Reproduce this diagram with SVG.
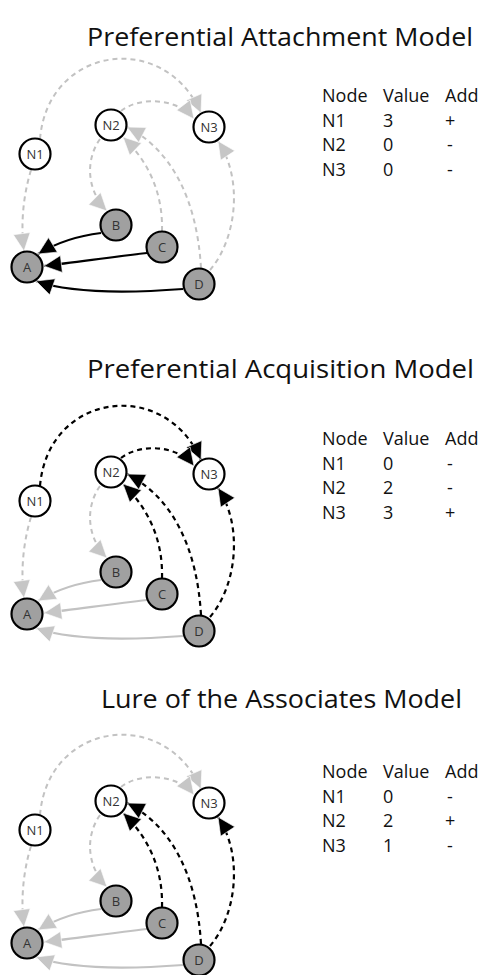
<svg xmlns="http://www.w3.org/2000/svg" width="482" height="975" viewBox="0 0 482 975">
<style>
.title{font-family:"Open Sans","Liberation Sans",sans-serif;font-size:25px;fill:#111}
.tbl{font-family:"Open Sans","Liberation Sans",sans-serif;font-size:18px;fill:#111}
.lbl{font-family:"Open Sans","Liberation Sans",sans-serif;font-size:13px;fill:#333;text-anchor:middle}
.wn{fill:#fff;stroke:#000;stroke-width:2.2}
.gn{fill:#a0a0a0;stroke:#000;stroke-width:2.2}
.e{fill:none}
.gd{stroke:#c2c2c2;stroke-width:2;stroke-dasharray:5 4;marker-end:url(#ag)}
.bd{stroke:#000;stroke-width:2.2;stroke-dasharray:5 4;marker-end:url(#ab)}
.gs{stroke:#c2c2c2;stroke-width:2.2;marker-end:url(#ag)}
.bs{stroke:#000;stroke-width:2.2;marker-end:url(#ab)}
</style>
<defs>
<marker id="ab" markerUnits="userSpaceOnUse" markerWidth="22" markerHeight="20" refX="18" refY="9" orient="auto" overflow="visible">
<path d="M0.5,0.5 L18,9 L0.5,17.5 z" fill="#000" stroke="#fff" stroke-width="0.6"/>
</marker>
<marker id="ag" markerUnits="userSpaceOnUse" markerWidth="22" markerHeight="20" refX="18" refY="9" orient="auto" overflow="visible">
<path d="M0.5,0.5 L18,9 L0.5,17.5 z" fill="#c6c6c6" stroke="#fff" stroke-width="0.6"/>
</marker>
</defs>

<text class="title" x="87" y="46" textLength="386" lengthAdjust="spacingAndGlyphs">Preferential Attachment Model</text>
<text class="title" x="87" y="378" textLength="387" lengthAdjust="spacingAndGlyphs">Preferential Acquisition Model</text>
<text class="title" x="101" y="708" textLength="361" lengthAdjust="spacingAndGlyphs">Lure of the Associates Model</text>

<g id="table1" class="tbl">
<text x="322" y="102">Node</text><text x="383" y="102">Value</text><text x="445" y="102">Add</text>
<text x="322" y="126.5">N1</text><text x="383" y="126.5">3</text><text x="445" y="126.5">+</text>
<text x="322" y="151">N2</text><text x="383" y="151">0</text><text x="447" y="151">-</text>
<text x="322" y="175.5">N3</text><text x="383" y="175.5">0</text><text x="447" y="175.5">-</text>
</g>
<g id="table2" class="tbl">
<text x="322" y="445">Node</text><text x="383" y="445">Value</text><text x="445" y="445">Add</text>
<text x="322" y="469.5">N1</text><text x="383" y="469.5">0</text><text x="447" y="469.5">-</text>
<text x="322" y="494">N2</text><text x="383" y="494">2</text><text x="447" y="494">-</text>
<text x="322" y="518.5">N3</text><text x="383" y="518.5">3</text><text x="445" y="518.5">+</text>
</g>
<g id="table3" class="tbl">
<text x="322" y="778">Node</text><text x="383" y="778">Value</text><text x="445" y="778">Add</text>
<text x="322" y="802.5">N1</text><text x="383" y="802.5">0</text><text x="447" y="802.5">-</text>
<text x="322" y="827">N2</text><text x="383" y="827">2</text><text x="445" y="827">+</text>
<text x="322" y="851.5">N3</text><text x="383" y="851.5">1</text><text x="447" y="851.5">-</text>
</g>

<!-- Panel 1 -->
<g id="panel1">
<g id="connectors1" class="e">
<path class="gd" d="M40,139 C48,45 165,30 201,113"/>
<path class="gd" d="M121,111 C140,96 178,98 194,119"/>
<path class="gd" d="M100,139 C84,162 88,192 107,211"/>
<path class="gd" d="M31,170 C22,200 21,228 24,251"/>
<path class="gd" d="M162,231 C163,195 150,163 123,137"/>
<path class="gd" d="M201,268 C197,200 172,150 127,127"/>
<path class="gd" d="M210,270 C236,240 244,180 218,141"/>
<path class="bs" d="M101,233 C76,236 56,243 38,254"/>
<path class="bs" d="M147,253 C112,257 78,262 44,266"/>
<path class="bs" d="M183,289 C130,293 70,293 36,281"/>
</g>
<g id="p1-N1"><circle class="wn" cx="35" cy="154" r="15.5"/><text class="lbl" x="35" y="158.5">N1</text></g>
<g id="p1-N2"><circle class="wn" cx="111" cy="125" r="15.5"/><text class="lbl" x="111" y="129.5">N2</text></g>
<g id="p1-N3"><circle class="wn" cx="209" cy="127" r="15.5"/><text class="lbl" x="209" y="131.5">N3</text></g>
<g id="p1-A"><circle class="gn" cx="27" cy="267" r="15.5"/><text class="lbl" x="27" y="271.5">A</text></g>
<g id="p1-B"><circle class="gn" cx="116" cy="225" r="15.5"/><text class="lbl" x="116" y="229.5">B</text></g>
<g id="p1-C"><circle class="gn" cx="162" cy="247" r="15.5"/><text class="lbl" x="162" y="251.5">C</text></g>
<g id="p1-D"><circle class="gn" cx="199" cy="284" r="15.5"/><text class="lbl" x="199" y="288.5">D</text></g>
</g>

<!-- Panel 2 -->
<g id="panel2" transform="translate(0,347)">
<g id="connectors2" class="e">
<path class="bd" d="M40,139 C48,45 165,30 201,113"/>
<path class="bd" d="M121,111 C140,96 178,98 194,119"/>
<path class="gd" d="M100,139 C84,162 88,192 107,211"/>
<path class="gd" d="M31,170 C22,200 21,228 24,251"/>
<path class="bd" d="M162,231 C163,195 150,163 123,137"/>
<path class="bd" d="M201,268 C197,200 172,150 127,127"/>
<path class="bd" d="M210,270 C236,240 244,180 218,141"/>
<path class="gs" d="M101,233 C76,236 56,243 38,254"/>
<path class="gs" d="M147,253 C112,257 78,262 44,266"/>
<path class="gs" d="M183,289 C130,293 70,293 36,281"/>
</g>
<g id="p2-N1"><circle class="wn" cx="35" cy="154" r="15.5"/><text class="lbl" x="35" y="158.5">N1</text></g>
<g id="p2-N2"><circle class="wn" cx="111" cy="125" r="15.5"/><text class="lbl" x="111" y="129.5">N2</text></g>
<g id="p2-N3"><circle class="wn" cx="209" cy="127" r="15.5"/><text class="lbl" x="209" y="131.5">N3</text></g>
<g id="p2-A"><circle class="gn" cx="27" cy="267" r="15.5"/><text class="lbl" x="27" y="271.5">A</text></g>
<g id="p2-B"><circle class="gn" cx="116" cy="225" r="15.5"/><text class="lbl" x="116" y="229.5">B</text></g>
<g id="p2-C"><circle class="gn" cx="162" cy="247" r="15.5"/><text class="lbl" x="162" y="251.5">C</text></g>
<g id="p2-D"><circle class="gn" cx="199" cy="284" r="15.5"/><text class="lbl" x="199" y="288.5">D</text></g>
</g>

<!-- Panel 3 -->
<g id="panel3" transform="translate(0,676)">
<g id="connectors3" class="e">
<path class="gd" d="M40,139 C48,45 165,30 201,113"/>
<path class="gd" d="M121,111 C140,96 178,98 194,119"/>
<path class="gd" d="M100,139 C84,162 88,192 107,211"/>
<path class="gd" d="M31,170 C22,200 21,228 24,251"/>
<path class="bd" d="M162,231 C163,195 150,163 123,137"/>
<path class="bd" d="M201,268 C197,200 172,150 127,127"/>
<path class="bd" d="M210,270 C236,240 244,180 218,141"/>
<path class="gs" d="M101,233 C76,236 56,243 38,254"/>
<path class="gs" d="M147,253 C112,257 78,262 44,266"/>
<path class="gs" d="M183,289 C130,293 70,293 36,281"/>
</g>
<g id="p3-N1"><circle class="wn" cx="35" cy="154" r="15.5"/><text class="lbl" x="35" y="158.5">N1</text></g>
<g id="p3-N2"><circle class="wn" cx="111" cy="125" r="15.5"/><text class="lbl" x="111" y="129.5">N2</text></g>
<g id="p3-N3"><circle class="wn" cx="209" cy="127" r="15.5"/><text class="lbl" x="209" y="131.5">N3</text></g>
<g id="p3-A"><circle class="gn" cx="27" cy="267" r="15.5"/><text class="lbl" x="27" y="271.5">A</text></g>
<g id="p3-B"><circle class="gn" cx="116" cy="225" r="15.5"/><text class="lbl" x="116" y="229.5">B</text></g>
<g id="p3-C"><circle class="gn" cx="162" cy="247" r="15.5"/><text class="lbl" x="162" y="251.5">C</text></g>
<g id="p3-D"><circle class="gn" cx="199" cy="284" r="15.5"/><text class="lbl" x="199" y="288.5">D</text></g>
</g>
</svg>
